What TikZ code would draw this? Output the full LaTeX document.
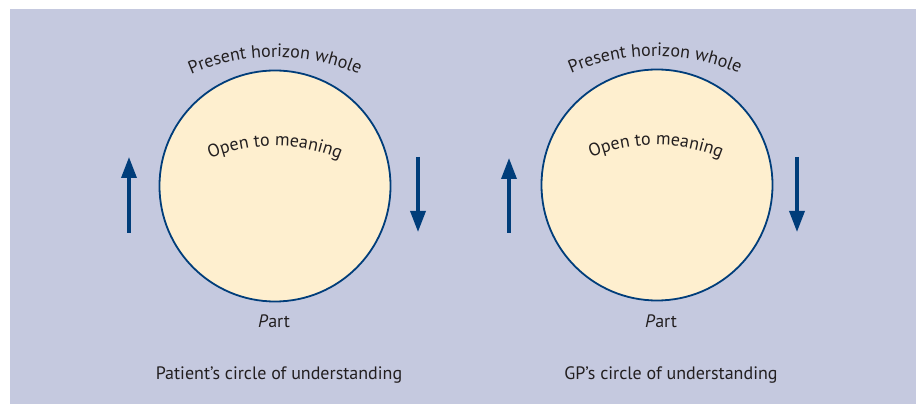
\documentclass[tikz,border=0pt]{standalone}
\usepackage{fontspec}
\setmainfont{PT Sans}
\usetikzlibrary{decorations.text,arrows.meta}
\definecolor{bgc}{HTML}{C5C9DF}
\definecolor{cream}{HTML}{FEEFCF}
\definecolor{navy}{HTML}{003D7A}
\definecolor{txt}{HTML}{231F20}
\tikzset{
  circ/.style={draw=navy,line width=1.8pt,fill=cream,circle,minimum size=231pt,inner sep=0pt},
  flow/.style={draw=navy,line width=3.4pt,-{Triangle[length=21pt,width=15pt]}},
  lbl/.style={text=txt,font=\fontsize{18}{21}\selectfont,inner sep=0pt,anchor=base},
  arctext/.style={decorate,decoration={text along path,text align=center,
     text={|\fontsize{18}{21}\selectfont\color{txt}|#1}}}
}
\begin{document}
\begin{tikzpicture}[x=1pt,y=1pt]
\useasboundingbox (0,0) rectangle (922,404);
\fill[bgc] (10,0) rectangle (916,395);
% left
\node[circ] (c1) at (275,218) {};
\path[arctext={Present horizon whole}] (275,137) ++(130:210) arc[start angle=130,end angle=50,radius=210];
\path[arctext={Open to meaning}] (275,89) ++(125:169) arc[start angle=125,end angle=55,radius=169];
\node[lbl] (p1) at (274,76) {\textit{P}art};
\node[lbl] (cap1) at (279,24) {Patient’s circle of understanding};
\coordinate (a1s) at (129,171); \coordinate (a1e) at (129,247);
\coordinate (b1s) at (418,247); \coordinate (b1e) at (418,172);
\draw[flow] (a1s) -- (a1e);
\draw[flow] (b1s) -- (b1e);
% right
\node[circ] (c2) at (657,219) {};
\path[arctext={Present horizon whole}] (655,138) ++(130:210) arc[start angle=130,end angle=50,radius=210];
\path[arctext={Open to meaning}] (656,90) ++(125:169) arc[start angle=125,end angle=55,radius=169];
\node[lbl] (p2) at (661,76) {\textit{P}art};
\node[lbl] (cap2) at (671,24) {GP’s circle of understanding};
\coordinate (a2s) at (509,171); \coordinate (a2e) at (509,246);
\coordinate (b2s) at (797,247); \coordinate (b2e) at (797,172);
\draw[flow] (a2s) -- (a2e);
\draw[flow] (b2s) -- (b2e);
\end{tikzpicture}
\end{document}
